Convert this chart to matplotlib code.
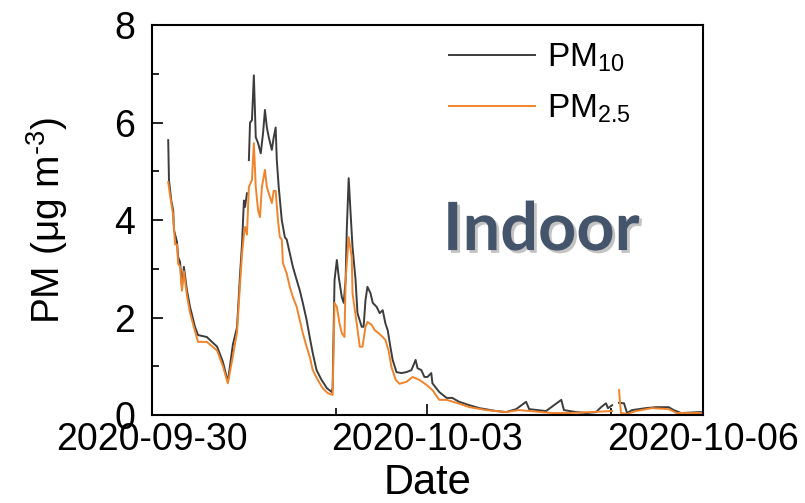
import numpy as np
import pandas as pd
import matplotlib
matplotlib.use('Agg')
import matplotlib.pyplot as plt
import matplotlib.dates as mdates
import matplotlib.patheffects as pe

plt.rcParams['font.family'] = ['Liberation Sans', 'DejaVu Sans']
plt.rcParams['mathtext.fontset'] = 'custom'
plt.rcParams['mathtext.rm'] = 'Liberation Sans'
plt.rcParams['mathtext.default'] = 'regular'

start = pd.Timestamp('2020-09-30 00:00')

# hours since 2020-09-30 00:00, PM10 (ug/m3)
pm10_hours = [4.2, 4.4, 5.0, 5.5, 5.7, 6.5, 6.8, 7.3, 7.8, 8.3, 9.1, 9.9, 11.2, 12.0,
              14.3, 17.0, 18.5, 19.8, 21.1, 22.2, 23.0, 23.5, 24.0, 24.3, 24.8, 25.0,
              25.3, 25.6, 26.1, 26.6, 27.1, 27.7, 28.4, 29.0, 29.5, 30.0, 30.5, 31.3,
              31.8, 32.3, 32.6, 33.1, 33.9, 34.7, 35.2, 36.0, 36.8, 37.8, 38.6, 39.4,
              40.4, 41.2, 42.0, 43.0, 44.3, 45.7, 47.0, 47.2, 47.7, 48.3, 48.8, 49.6,
              50.1, 50.6, 50.9, 51.4, 51.9, 52.4, 53.2, 53.7, 54.8, 55.3, 55.8, 56.3,
              57.1, 57.7, 58.7, 59.5, 60.3, 61.0, 61.6, 62.3, 62.9, 63.9, 65.2, 66.5,
              67.8, 68.9, 69.4, 70.4, 71.2, 72.0, 73.0, 73.3, 75.1, 77.0, 78.5, 80.3,
              83.0, 85.6, 90.0, 92.6, 95.2, 97.8, 98.6, 103.0, 107.0, 107.7, 110.9,
              113.5, 116.1, 117.4, 118.7, 119.2, 120.3, 121.5, 122.1, 123.4, 124.2,
              125.5, 129.1, 131.7, 135.1, 136.4, 138.3, 143.5]
pm10 = [5.64, 4.82, 4.4, 4.2, 3.8, 3.55, 3.24, 3.14, 2.63, 3.04, 2.56, 2.22, 1.81, 1.64,
        1.6, 1.4, 1.09, 0.68, 1.44, 1.8, 2.9, 3.5, 4.4, 4.27, 4.55, np.nan,
        5.23, 6.0, 6.05, 6.97, 5.7, 5.58, 5.37, 5.78, 6.26, 5.9, 5.7, 5.44,
        5.7, 5.9, 5.23, 4.68, 4.0, 3.65, 3.6, 3.32, 3.04, 2.77, 2.56, 2.3,
        1.95, 1.6, 1.27, 0.92, 0.72, 0.55, 0.47, 0.56, 2.77, 3.18, 2.83, 2.42,
        2.3, 2.77, 3.8, 4.86, 4.14, 3.45, 2.77, 2.09, 1.81, 1.81, 2.36, 2.63,
        2.5, 2.3, 2.22, 2.09, 2.15, 1.88, 1.74, 1.4, 1.13, 0.88, 0.86, 0.88,
        0.92, 1.13, 0.96, 0.92, 0.78, 0.78, 0.86, 0.65, 0.47, 0.35, 0.35, 0.27,
        0.2, 0.14, 0.08, 0.06, 0.12, 0.27, 0.12, 0.08, 0.31, 0.1, 0.06,
        0.04, 0.06, 0.16, 0.24, 0.14, 0.2, np.nan, 0.25, 0.24, 0.04,
        0.1, 0.14, 0.16, 0.16, 0.1, 0.04, 0.06]

# hours since 2020-09-30 00:00, PM2.5 (ug/m3)
pm25_hours = [4.2, 4.7, 5.5, 6.0, 6.5, 6.8, 7.3, 7.8, 8.3, 9.1, 9.9, 11.2, 12.0, 14.3,
              17.0, 18.5, 19.8, 21.1, 22.2, 23.0, 23.5, 24.0, 24.3, 24.8, 25.3, 26.1,
              26.6, 27.1, 27.7, 28.2, 28.7, 29.5, 30.0, 30.5, 31.3, 31.8, 32.3, 32.9,
              33.4, 33.9, 34.2, 35.2, 36.0, 36.8, 37.8, 38.6, 39.4, 40.4, 41.2, 42.0,
              43.3, 44.6, 45.9, 47.2, 47.7, 48.3, 49.0, 49.6, 50.3, 50.6, 51.4, 52.2,
              52.4, 53.5, 54.3, 55.0, 55.8, 56.3, 57.4, 58.2, 59.2, 60.3, 61.0, 61.8,
              62.6, 63.7, 64.7, 66.5, 68.1, 69.9, 71.7, 73.3, 75.1, 77.0, 79.6, 83.0,
              87.4, 92.6, 96.0, 104.6, 109.0, 120.3, 121.5, 122.1, 122.6, 124.2, 126.5,
              130.7, 135.1, 137.2, 143.5]
pm25 = [4.78, 4.5, 4.1, 3.5, 3.5, 3.1, 3.05, 2.55, 2.95, 2.45, 2.1, 1.72, 1.5, 1.5,
        1.32, 1.0, 0.65, 1.2, 1.7, 2.7, 3.3, 3.7, 3.86, 3.7, 4.68, 4.82,
        5.58, 4.68, 4.2, 4.06, 4.68, 5.03, 4.68, 4.55, 4.35, 4.6, 4.6, 4.0,
        3.65, 3.6, 3.12, 2.9, 2.63, 2.42, 2.22, 1.95, 1.68, 1.4, 1.2, 0.92,
        0.72, 0.55, 0.45, 0.41, 2.3, 2.22, 1.88, 1.68, 1.6, 2.77, 3.65, 3.24,
        2.5, 1.88, 1.4, 1.4, 1.81, 1.91, 1.85, 1.74, 1.68, 1.6, 1.54, 1.33,
        0.98, 0.72, 0.64, 0.68, 0.78, 0.72, 0.62, 0.51, 0.31, 0.31, 0.25, 0.16,
        0.1, 0.06, 0.1, 0.04, 0.04, 0.08, np.nan, 0.51, 0.04, 0.02, 0.08,
        0.14, 0.12, 0.04, 0.04]

t10 = start + pd.to_timedelta(pm10_hours, unit='h')
t25 = start + pd.to_timedelta(pm25_hours, unit='h')

fig = plt.figure(figsize=(8.05, 5.03), dpi=100)
ax = fig.add_axes([0.189, 0.175, 0.684, 0.775])

ax.plot(t10, pm10, color='#3c3c3c', lw=1.4, label='PM$_{10}$')
ax.plot(t25, pm25, color='#f0842c', lw=1.4, label='PM$_{2.5}$')

ax.set_xlim(pd.Timestamp('2020-09-30'), pd.Timestamp('2020-10-06'))
ax.set_ylim(0, 8)
ax.set_yticks([0, 2, 4, 6, 8])
ax.set_yticks([1, 3, 5, 7], minor=True)
major_days = [pd.Timestamp('2020-09-30'), pd.Timestamp('2020-10-03'), pd.Timestamp('2020-10-06')]
ax.set_xticks(major_days)
ax.set_xticks([pd.Timestamp('2020-10-02'), pd.Timestamp('2020-10-05')], minor=True)
ax.xaxis.set_major_formatter(mdates.DateFormatter('%Y-%m-%d'))
ax.tick_params(which='both', direction='in', labelsize=27, width=1.2)
ax.tick_params(which='major', length=8)
ax.tick_params(which='minor', length=5)
ax.tick_params(axis='x', pad=5)
ax.tick_params(axis='y', pad=12)
for s in ax.spines.values():
    s.set_linewidth(1.5)

ax.set_xlabel('Date', fontsize=30, labelpad=4)
ax.set_ylabel(r'PM (μg m$^{\text{-}3}$)', fontsize=28, labelpad=32)

ax.legend(loc='upper left', bbox_to_anchor=(0.484, 1.035), frameon=False, fontsize=24,
          handlelength=2.6, handletextpad=0.35, labelspacing=0.55)

ax.text(0.528, 0.423, 'Indoor', transform=ax.transAxes, ha='left', va='baseline',
        fontsize=48, fontweight='bold', family='Lato', color='#44546a',
        path_effects=[pe.withSimplePatchShadow(offset=(2, -2), shadow_rgbFace='#888888', alpha=0.5)])

fig.savefig('out.png', dpi=100)
